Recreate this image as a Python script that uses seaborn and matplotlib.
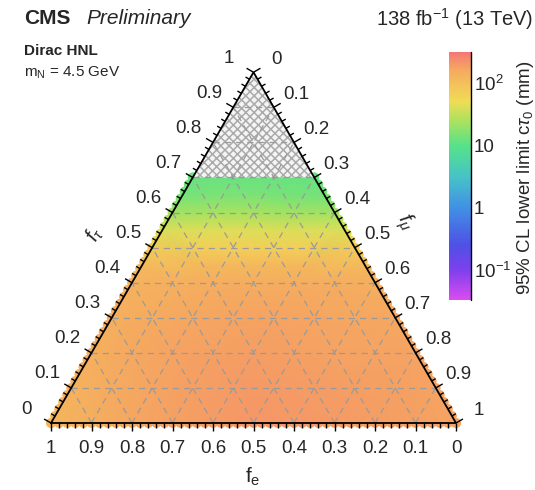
import numpy as np
import matplotlib
matplotlib.use('Agg')
import matplotlib.pyplot as plt
import matplotlib.tri as mtri
from matplotlib.colors import LinearSegmentedColormap, LogNorm, Normalize
from matplotlib.cm import ScalarMappable
from matplotlib.patches import Polygon
import seaborn as sns

# rows of constant f_tau; limits listed from left (f_e = 1 - f_tau) to right (f_e = 0)
f_tau_rows = [0.0, 0.1, 0.2, 0.3, 0.4, 0.45, 0.5, 0.55, 0.6, 0.65, 0.7]
ctau_rows = [
    [125, 180, 215, 195, 180],
    [135, 180, 205, 190, 180],
    [145, 175, 190, 180, 175],
    [145, 165, 175, 170, 165],
    [135, 145, 150, 150, 145],
    [115, 115, 120, 120, 115],
    [75, 70, 70, 70, 75],
    [40, 42, 42, 40, 40],
    [22, 24, 24, 22, 22],
    [14, 15, 15, 14, 14],
    [12, 12, 12, 12, 12],
]
no_limit_above = 0.7

tick_values = [0, 0.1, 0.2, 0.3, 0.4, 0.5, 0.6, 0.7, 0.8, 0.9, 1]
tick_labels = ['0', '0.1', '0.2', '0.3', '0.4', '0.5', '0.6', '0.7', '0.8', '0.9', '1']
cbar_ticks = [0.1, 1, 10, 100]
cbar_labels = [r'$10^{-1}$', '1', '10', r'$10^{2}$']
ctau_min, ctau_max = 0.033, 320

cmap = LinearSegmentedColormap.from_list('hnl', [
    (0.00, '#d94cf0'), (0.12, '#7d40ee'), (0.22, '#4f50e6'),
    (0.37, '#4190e4'), (0.50, '#47c4c6'), (0.62, '#55e28a'),
    (0.72, '#a8e25f'), (0.80, '#efdc56'), (0.87, '#f4c25a'),
    (0.93, '#f5a860'), (0.97, '#f58e6a'), (1.00, '#f37676')])

sns.set_style('white')
plt.rcParams['font.family'] = ['Liberation Sans', 'DejaVu Sans']
plt.rcParams['mathtext.fontset'] = 'custom'
plt.rcParams['mathtext.rm'] = 'Liberation Sans'
plt.rcParams['mathtext.it'] = 'Liberation Sans:italic'
plt.rcParams['mathtext.bf'] = 'Liberation Sans:bold'
plt.rcParams['hatch.linewidth'] = 1.1

W, H = 535, 490
fig = plt.figure(figsize=(W / 100, H / 100), dpi=100)
ax = fig.add_axes([0, 0, 1, 1])
ax.set_xlim(0, W)
ax.set_ylim(H, 0)
ax.axis('off')

# triangle in pixel space: bottom-left = f_e, bottom-right = f_mu, top = f_tau
x0, y0, side = 51, 423, 405
s3 = np.sqrt(3) / 2


def to_px(fe, ft):
    fe = np.asarray(fe, float)
    ft = np.asarray(ft, float)
    fm = 1 - fe - ft
    return x0 + (fm + 0.5 * ft) * side, y0 - ft * s3 * side


# data points
px, py, lz = [], [], []
for ft, vals in zip(f_tau_rows, ctau_rows):
    fe = np.linspace(1 - ft, 0, len(vals))
    xx, yy = to_px(fe, np.full(len(vals), ft))
    px += list(xx)
    py += list(yy)
    lz += list(np.log10(vals))
px, py, lz = np.array(px), np.array(py), np.array(lz)
lo, hi = np.log10(ctau_min), np.log10(ctau_max)

tri = mtri.Triangulation(px, py)
ax.tripcolor(tri, lz, shading='gouraud', cmap=cmap, vmin=lo, vmax=hi, zorder=2)

# soft dotted border of the filled region
interp = mtri.LinearTriInterpolator(tri, lz)
eps = 0.004
t_side = np.arange(0, no_limit_above + 0.001, 0.02)
t_base = np.arange(0, 1.001, 0.02)
t_top = np.arange(0, 1 - no_limit_above + 0.001, 0.02)
edge_fe = np.concatenate([1 - t_side - eps, np.full(len(t_side), eps),
                          np.clip(t_base, eps, 1 - eps), np.clip(t_top, eps, 0.3 - eps)])
edge_ft = np.concatenate([t_side, t_side, np.full(len(t_base), eps),
                          np.full(len(t_top), no_limit_above - eps)])
edge_ft = np.clip(edge_ft, eps, no_limit_above - eps)
ex, ey = to_px(edge_fe, edge_ft)
ez = np.ma.filled(interp(ex, ey), np.nan)
ok = ~np.isnan(ez)
ex_draw, ey_draw = to_px(np.concatenate([1 - t_side, np.zeros(len(t_side)), t_base, t_top]),
                         np.concatenate([t_side, t_side, np.zeros(len(t_base)),
                                         np.full(len(t_top), no_limit_above)]))
sns.scatterplot(x=ex_draw[ok], y=ey_draw[ok], hue=ez[ok], palette=cmap,
                hue_norm=Normalize(lo, hi), s=50, linewidth=0, legend=False,
                ax=ax, zorder=1)

# region without a limit
hx, hy = to_px([1 - no_limit_above, 0, 0], [no_limit_above, no_limit_above, 1])
ax.add_patch(Polygon(np.column_stack([hx, hy]), closed=True, facecolor='#f4f4f4',
                     edgecolor='#aaaaaa', hatch='xxxx', lw=0, zorder=2.5))

# ternary grid
for v in tick_values[1:-1]:
    for a, b in [((1 - v, v), (0, v)), ((v, 0), (v, 1 - v)), ((1 - v, 0), (0, 1 - v))]:
        lx, ly = to_px([a[0], b[0]], [a[1], b[1]])
        ax.plot(lx, ly, color='#9a9a9a', lw=0.9, ls=(0, (5, 4)), zorder=3)

# frame
fx, fy = to_px([1, 0, 0, 1], [0, 0, 1, 0])
ax.plot(fx, fy, color='black', lw=1.3, zorder=4, solid_joinstyle='miter')

# ticks
left_dir = np.array([-s3, -0.5])
right_dir = np.array([s3, -0.5])
down_dir = np.array([0.0, 1.0])
for k in range(51):
    t = k / 50
    ln = 8 if k % 5 == 0 else 4.5
    for (bx, by), d in [(to_px(t, 0), down_dir), (to_px(1 - t, t), left_dir),
                        (to_px(0, 1 - t), right_dir)]:
        ax.plot([bx, bx + d[0] * ln], [by, by + d[1] * ln], color='black',
                lw=1, zorder=4, solid_capstyle='butt')

for v, lab in zip(tick_values, tick_labels):
    bx, by = to_px(v, 0)
    ax.text(bx, by + 25, lab, ha='center', va='center', fontsize=13.5)
    bx, by = to_px(1 - v, v)
    ax.text(bx + left_dir[0] * 28, by + left_dir[1] * 28, lab, ha='center',
            va='center', fontsize=13.5)
    bx, by = to_px(0, 1 - v)
    ax.text(bx + right_dir[0] * 26, by + right_dir[1] * 26, lab, ha='center',
            va='center', fontsize=13.5)

ax.text(253, 477, r'f$_{\rm e}$', ha='center', va='center', fontsize=15)
ax.text(95, 234, r'$f_{\tau}$', ha='center', va='center', fontsize=15, rotation=60)
ax.text(405, 222, r'$f_{\mu}$', ha='center', va='center', fontsize=15, rotation=-60)

# header
ax.text(24, 19, 'CMS', fontweight='bold', fontsize=15, va='center')
ax.text(86, 19, 'Preliminary', fontstyle='italic', fontsize=15, va='center')
ax.text(533, 19, r'138 fb$^{-1}$ (13 TeV)', fontsize=14.5, va='center', ha='right')
ax.text(24, 51, 'Dirac HNL', fontweight='bold', fontsize=11, va='center')
ax.text(24, 73, r'm$_{\rm N}$ = 4.5 GeV', fontsize=11, va='center')

# colour bar
cax = fig.add_axes([449 / W, 1 - 300 / H, 22 / W, 248 / H])
sm = ScalarMappable(norm=LogNorm(ctau_min, ctau_max), cmap=cmap)
cb = fig.colorbar(sm, cax=cax)
cb.outline.set_visible(False)
cb.set_ticks(cbar_ticks)
cb.set_ticklabels(cbar_labels)
cax.tick_params(which='major', direction='in', length=7, width=1, labelsize=13.5, pad=2)
cax.tick_params(which='minor', direction='in', length=3.5, width=0.8)
cax.plot([1, 1], [0, 1], transform=cax.transAxes, color='black', lw=1, clip_on=False)
fig.text(525 / W, 1 - 178 / H, r'95% CL lower limit c$\tau_0$ (mm)', rotation=90,
         ha='center', va='center', fontsize=13.5)

fig.savefig('out.png', dpi=100)
